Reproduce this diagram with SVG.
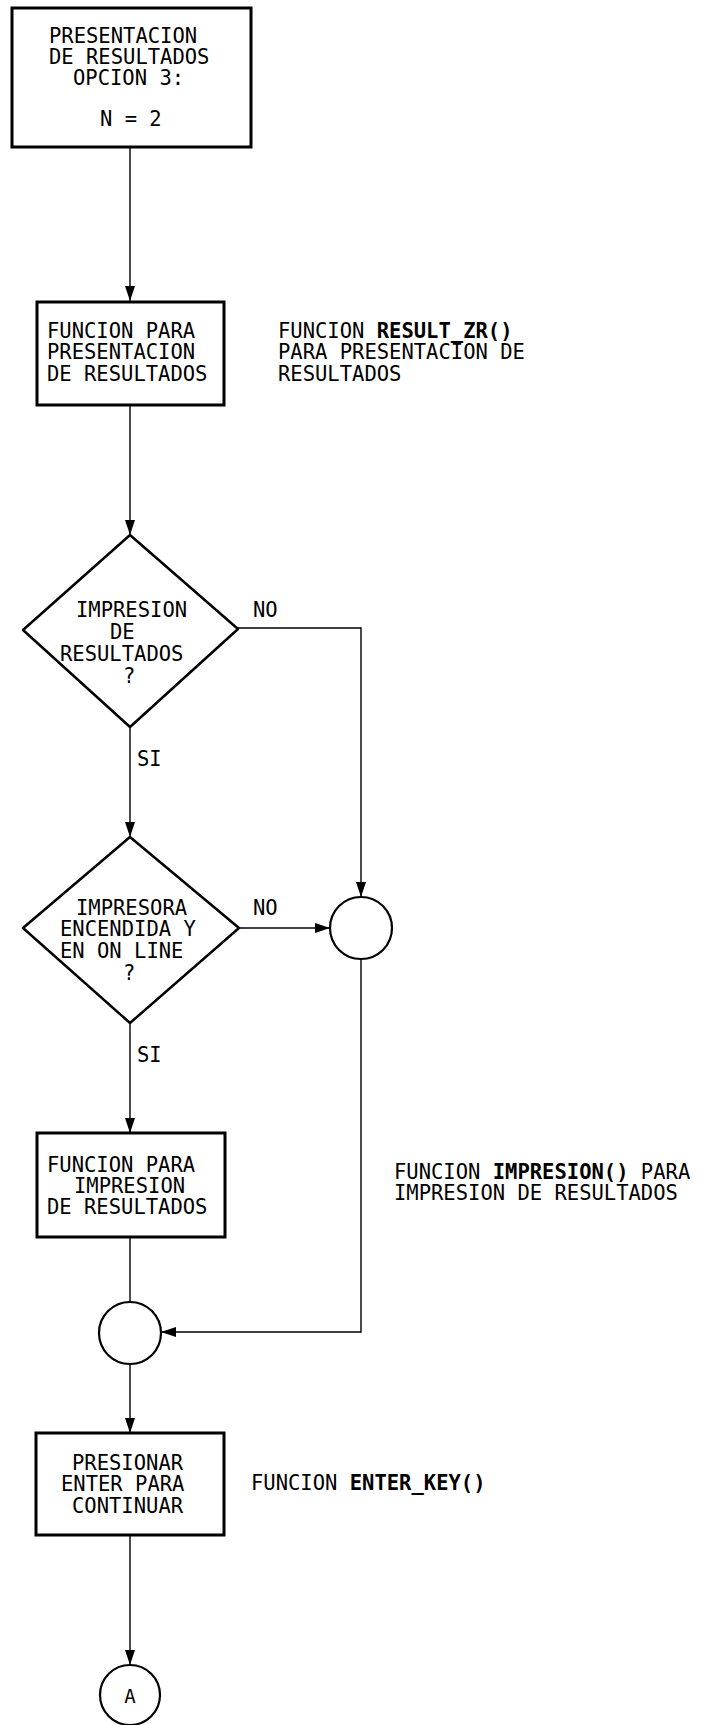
<svg xmlns="http://www.w3.org/2000/svg" width="703" height="1725" viewBox="0 0 703 1725">
<style>
.box{fill:#fff;stroke:#000;stroke-width:3}
.dia{fill:#fff;stroke:#000;stroke-width:2.5;stroke-linejoin:round}
.cir{fill:#fff;stroke:#000;stroke-width:2.2}
.con{fill:none;stroke:#000;stroke-width:1.4}
text{font-family:"DejaVu Sans Mono","Liberation Mono",monospace;font-size:20.5px;fill:#000}
.b{font-weight:bold}
</style>
<defs>
<marker id="ah" markerUnits="userSpaceOnUse" markerWidth="16" markerHeight="12" refX="15" refY="5" orient="auto">
<path d="M0,0 L15,5 L0,10 Z" fill="#000"/>
</marker>
</defs>
<rect width="703" height="1725" fill="#fff"/>
<g id="connectors">
<path class="con" d="M130,147 V301" marker-end="url(#ah)"/>
<path class="con" d="M130,405 V535" marker-end="url(#ah)"/>
<path class="con" d="M130,727 V837" marker-end="url(#ah)"/>
<path class="con" d="M130,1023 V1133" marker-end="url(#ah)"/>
<path class="con" d="M130,1237 V1302"/>
<path class="con" d="M130,1364 V1433" marker-end="url(#ah)"/>
<path class="con" d="M130,1535 V1665" marker-end="url(#ah)"/>
<path class="con" d="M238,628 H361 V897" marker-end="url(#ah)"/>
<path class="con" d="M239,928 H330" marker-end="url(#ah)"/>
<path class="con" d="M361,959 V1332 H161" marker-end="url(#ah)"/>
<text x="253" y="617">NO</text>
<text x="253" y="915">NO</text>
<text x="137" y="766">SI</text>
<text x="137" y="1062">SI</text>
</g>
<g id="start">
<rect class="box" x="12" y="8" width="239" height="139"/>
<text x="49" y="43">PRESENTACION</text>
<text x="49" y="64">DE RESULTADOS</text>
<text x="73" y="85">OPCION 3:</text>
<text x="100" y="126">N = 2</text>
</g>
<g id="result-func">
<rect class="box" x="37" y="302" width="187" height="103"/>
<text x="47" y="338">FUNCION PARA</text>
<text x="47" y="359">PRESENTACION</text>
<text x="47" y="381">DE RESULTADOS</text>
</g>
<g id="result-note">
<text x="278" y="338">FUNCION <tspan class="b">RESULT_ZR()</tspan></text>
<text x="278" y="359">PARA PRESENTACION DE</text>
<text x="278" y="381">RESULTADOS</text>
</g>
<g id="dec-print">
<polygon class="dia" points="130,535 238,629 130,727 23,630"/>
<text x="76" y="617">IMPRESION</text>
<text x="110" y="639">DE</text>
<text x="60" y="661">RESULTADOS</text>
<text x="123" y="683">?</text>
</g>
<g id="dec-printer">
<polygon class="dia" points="130,837 239,928 130,1023 23,928"/>
<text x="76" y="915">IMPRESORA</text>
<text x="60" y="936">ENCENDIDA Y</text>
<text x="60" y="958">EN ON LINE</text>
<text x="123" y="980">?</text>
</g>
<g id="join1">
<circle class="cir" cx="361" cy="928" r="31"/>
</g>
<g id="print-func">
<rect class="box" x="37" y="1133" width="188" height="104"/>
<text x="47" y="1172">FUNCION PARA</text>
<text x="74" y="1193">IMPRESION</text>
<text x="47" y="1214">DE RESULTADOS</text>
</g>
<g id="print-note">
<text x="394" y="1179">FUNCION <tspan class="b">IMPRESION()</tspan> PARA</text>
<text x="394" y="1200">IMPRESION DE RESULTADOS</text>
</g>
<g id="join2">
<circle class="cir" cx="130" cy="1333" r="31"/>
</g>
<g id="enter">
<rect class="box" x="36" y="1433" width="188" height="102"/>
<text x="72" y="1470">PRESIONAR</text>
<text x="61" y="1491">ENTER PARA</text>
<text x="72" y="1513">CONTINUAR</text>
</g>
<g id="enter-note">
<text x="251" y="1490">FUNCION <tspan class="b">ENTER_KEY()</tspan></text>
</g>
<g id="conn-a">
<circle class="cir" cx="130" cy="1695" r="30"/>
<text x="130" y="1703" text-anchor="middle" style="font-size:19px">A</text>
</g>
</svg>
